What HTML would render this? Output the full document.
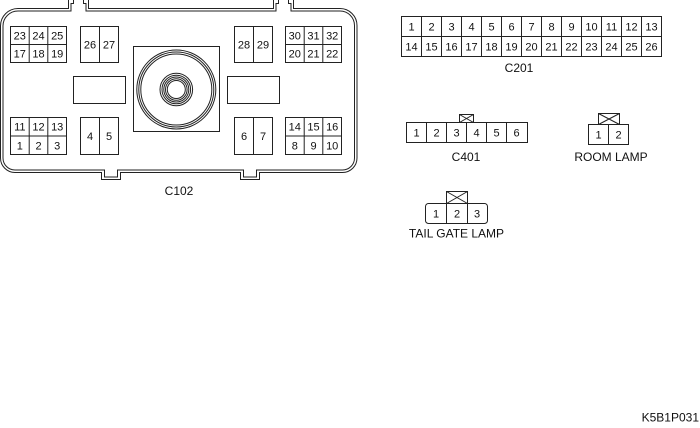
<!DOCTYPE html>
<html>
<head>
<meta charset="utf-8">
<style>
  html,body{margin:0;padding:0;background:#fff;}
  svg{display:block;}
  text{font-family:"Liberation Sans",Arial,sans-serif;fill:#111;}
</style>
</head>
<body>
<svg width="700" height="428" viewBox="0 0 700 428" xmlns="http://www.w3.org/2000/svg">
  <g fill="none" stroke="#222" stroke-width="1">
    <!-- C102 outer double outline -->
    <path d="M 0.5,26 A 17.5 17.5 0 0 1 18,8.5 H 68.5 V -2 H 88.5 V 8.5 H 273.5 V -2 H 293.5 V 8.5 H 340 A 17 17 0 0 1 357,25.5 V 158 A 14.5 14.5 0 0 1 342.5,172.5 H 259.5 V 179.5 H 240.5 V 172.5 H 120.5 V 179.5 H 101.5 V 172.5 H 15 A 14.5 14.5 0 0 1 0.5,158 Z"/>
    <path d="M 73.5,-2 V 3.5 H 71 V 11 H 18 A 15 15 0 0 0 3,26 V 158 A 12 12 0 0 0 15,170 H 104.5 V 177 H 117.5 V 170 H 243.5 V 177 H 256.5 V 170 H 342.5 A 12 12 0 0 0 354.5,158 V 25.5 A 14.5 14.5 0 0 0 340,11 H 291 V 3.5 H 288.5 V -2 M 278.5,-2 V 3.5 H 276 V 11 H 86 V 3.5 H 83.5 V -2"/>

    <!-- top-left 3x2 -->
    <rect x="10.5" y="26.5" width="56" height="36"/>
    <line x1="10.5" y1="44.5" x2="66.5" y2="44.5"/>
    <line x1="29.2" y1="26.5" x2="29.2" y2="62.5"/>
    <line x1="47.8" y1="26.5" x2="47.8" y2="62.5"/>
    <!-- 26 27 -->
    <rect x="80.5" y="26.5" width="38" height="36"/>
    <line x1="99.5" y1="26.5" x2="99.5" y2="62.5"/>
    <!-- 28 29 -->
    <rect x="234.5" y="26.5" width="38" height="36"/>
    <line x1="253.5" y1="26.5" x2="253.5" y2="62.5"/>
    <!-- top-right 3x2 -->
    <rect x="285.5" y="26.5" width="56" height="36"/>
    <line x1="285.5" y1="44.5" x2="341.5" y2="44.5"/>
    <line x1="304.2" y1="26.5" x2="304.2" y2="62.5"/>
    <line x1="322.8" y1="26.5" x2="322.8" y2="62.5"/>

    <!-- side rects -->
    <rect x="73.5" y="76.5" width="52" height="27"/>
    <rect x="227.5" y="76.5" width="52" height="27"/>

    <!-- center square + circles -->
    <rect x="133.5" y="46.5" width="86" height="85"/>
    <circle cx="176.3" cy="89.5" r="39.5"/>
    <circle cx="176.3" cy="89.5" r="37.5"/>
    <circle cx="176.3" cy="89.5" r="35.5"/>
    <circle cx="176.3" cy="89.5" r="16.3"/>
    <circle cx="176.3" cy="89.5" r="14.3"/>
    <circle cx="176.3" cy="89.5" r="12.5"/>
    <circle cx="176.3" cy="89.5" r="10.8"/>
    <circle cx="176.3" cy="89.5" r="9"/>

    <!-- bottom-left 3x2 -->
    <rect x="10.5" y="117.5" width="56" height="37"/>
    <line x1="10.5" y1="136" x2="66.5" y2="136"/>
    <line x1="29.2" y1="117.5" x2="29.2" y2="154.5"/>
    <line x1="47.8" y1="117.5" x2="47.8" y2="154.5"/>
    <!-- 4 5 -->
    <rect x="80.5" y="117.5" width="38" height="37"/>
    <line x1="99.5" y1="117.5" x2="99.5" y2="154.5"/>
    <!-- 6 7 -->
    <rect x="234.5" y="117.5" width="38" height="37"/>
    <line x1="253.5" y1="117.5" x2="253.5" y2="154.5"/>
    <!-- bottom-right 3x2 -->
    <rect x="285.5" y="117.5" width="56" height="37"/>
    <line x1="285.5" y1="136" x2="341.5" y2="136"/>
    <line x1="304.2" y1="117.5" x2="304.2" y2="154.5"/>
    <line x1="322.8" y1="117.5" x2="322.8" y2="154.5"/>

    <!-- C201 -->
    <rect x="401.5" y="16.5" width="260" height="40"/>
    <line x1="401.5" y1="36.5" x2="661.5" y2="36.5"/>
    <line x1="421.5" y1="16.5" x2="421.5" y2="56.5"/>
    <line x1="441.5" y1="16.5" x2="441.5" y2="56.5"/>
    <line x1="461.5" y1="16.5" x2="461.5" y2="56.5"/>
    <line x1="481.5" y1="16.5" x2="481.5" y2="56.5"/>
    <line x1="501.5" y1="16.5" x2="501.5" y2="56.5"/>
    <line x1="521.5" y1="16.5" x2="521.5" y2="56.5"/>
    <line x1="541.5" y1="16.5" x2="541.5" y2="56.5"/>
    <line x1="561.5" y1="16.5" x2="561.5" y2="56.5"/>
    <line x1="581.5" y1="16.5" x2="581.5" y2="56.5"/>
    <line x1="601.5" y1="16.5" x2="601.5" y2="56.5"/>
    <line x1="621.5" y1="16.5" x2="621.5" y2="56.5"/>
    <line x1="641.5" y1="16.5" x2="641.5" y2="56.5"/>

    <!-- C401 -->
    <rect x="406.5" y="122.5" width="121" height="20"/>
    <line x1="426.5" y1="122.5" x2="426.5" y2="142.5"/>
    <line x1="446.5" y1="122.5" x2="446.5" y2="142.5"/>
    <line x1="466.5" y1="122.5" x2="466.5" y2="142.5"/>
    <line x1="486.5" y1="122.5" x2="486.5" y2="142.5"/>
    <line x1="506.5" y1="122.5" x2="506.5" y2="142.5"/>
    <rect x="459.5" y="114.5" width="14" height="8"/>
    <path d="M459.5,114.5 L473.5,122.5 M473.5,114.5 L459.5,122.5"/>

    <!-- ROOM LAMP -->
    <rect x="588.5" y="124.5" width="40" height="20"/>
    <line x1="608.5" y1="124.5" x2="608.5" y2="144.5"/>
    <rect x="598.5" y="113.5" width="21" height="11"/>
    <path d="M598.5,113.5 L619.5,124.5 M619.5,113.5 L598.5,124.5"/>

    <!-- TAIL GATE LAMP -->
    <rect x="425.5" y="203.5" width="62" height="20" rx="3"/>
    <line x1="446.5" y1="203.5" x2="446.5" y2="223.5"/>
    <line x1="467.5" y1="203.5" x2="467.5" y2="223.5"/>
    <rect x="446.5" y="191.5" width="21" height="12"/>
    <path d="M446.5,191.5 L467.5,203.5 M467.5,191.5 L446.5,203.5"/>
  </g>

  <g font-size="11" text-anchor="middle">
    <!-- C102 numbers -->
    <text x="19.8" y="39.5">23</text><text x="38.5" y="39.5">24</text><text x="57.2" y="39.5">25</text>
    <text x="19.8" y="57.5">17</text><text x="38.5" y="57.5">18</text><text x="57.2" y="57.5">19</text>
    <text x="90" y="48.5">26</text><text x="109" y="48.5">27</text>
    <text x="244" y="48.5">28</text><text x="263" y="48.5">29</text>
    <text x="294.8" y="39.5">30</text><text x="313.5" y="39.5">31</text><text x="332.2" y="39.5">32</text>
    <text x="294.8" y="57.5">20</text><text x="313.5" y="57.5">21</text><text x="332.2" y="57.5">22</text>

    <text x="19.8" y="130.5">11</text><text x="38.5" y="130.5">12</text><text x="57.2" y="130.5">13</text>
    <text x="19.8" y="149.5">1</text><text x="38.5" y="149.5">2</text><text x="57.2" y="149.5">3</text>
    <text x="90" y="140">4</text><text x="109" y="140">5</text>
    <text x="244" y="140">6</text><text x="263" y="140">7</text>
    <text x="294.8" y="130.5">14</text><text x="313.5" y="130.5">15</text><text x="332.2" y="130.5">16</text>
    <text x="294.8" y="149.5">8</text><text x="313.5" y="149.5">9</text><text x="332.2" y="149.5">10</text>

    <!-- C201 numbers -->
    <text x="411.5" y="30.5">1</text><text x="431.5" y="30.5">2</text><text x="451.5" y="30.5">3</text>
    <text x="471.5" y="30.5">4</text><text x="491.5" y="30.5">5</text><text x="511.5" y="30.5">6</text>
    <text x="531.5" y="30.5">7</text><text x="551.5" y="30.5">8</text><text x="571.5" y="30.5">9</text>
    <text x="591.5" y="30.5">10</text><text x="611.5" y="30.5">11</text><text x="631.5" y="30.5">12</text>
    <text x="651.5" y="30.5">13</text>
    <text x="411.5" y="50.5">14</text><text x="431.5" y="50.5">15</text><text x="451.5" y="50.5">16</text>
    <text x="471.5" y="50.5">17</text><text x="491.5" y="50.5">18</text><text x="511.5" y="50.5">19</text>
    <text x="531.5" y="50.5">20</text><text x="551.5" y="50.5">21</text><text x="571.5" y="50.5">22</text>
    <text x="591.5" y="50.5">23</text><text x="611.5" y="50.5">24</text><text x="631.5" y="50.5">25</text>
    <text x="651.5" y="50.5">26</text>

    <!-- C401 numbers -->
    <text x="416.5" y="136.5">1</text><text x="436.5" y="136.5">2</text><text x="456.5" y="136.5">3</text>
    <text x="476.5" y="136.5">4</text><text x="496.5" y="136.5">5</text><text x="516.5" y="136.5">6</text>

    <!-- ROOM LAMP numbers -->
    <text x="598.5" y="138.5">1</text><text x="618.5" y="138.5">2</text>

    <!-- TAIL GATE numbers -->
    <text x="436" y="217.5">1</text><text x="457" y="217.5">2</text><text x="477" y="217.5">3</text>
  </g>

  <g font-size="12" text-anchor="middle">
    <text x="179" y="195">C102</text>
    <text x="519" y="72">C201</text>
    <text x="466" y="161">C401</text>
    <text x="611" y="161">ROOM LAMP</text>
    <text x="456.5" y="237.5">TAIL GATE LAMP</text>
  </g>
  <text x="699" y="421.5" font-size="12" text-anchor="end">K5B1P031</text>
</svg>
</body>
</html>
